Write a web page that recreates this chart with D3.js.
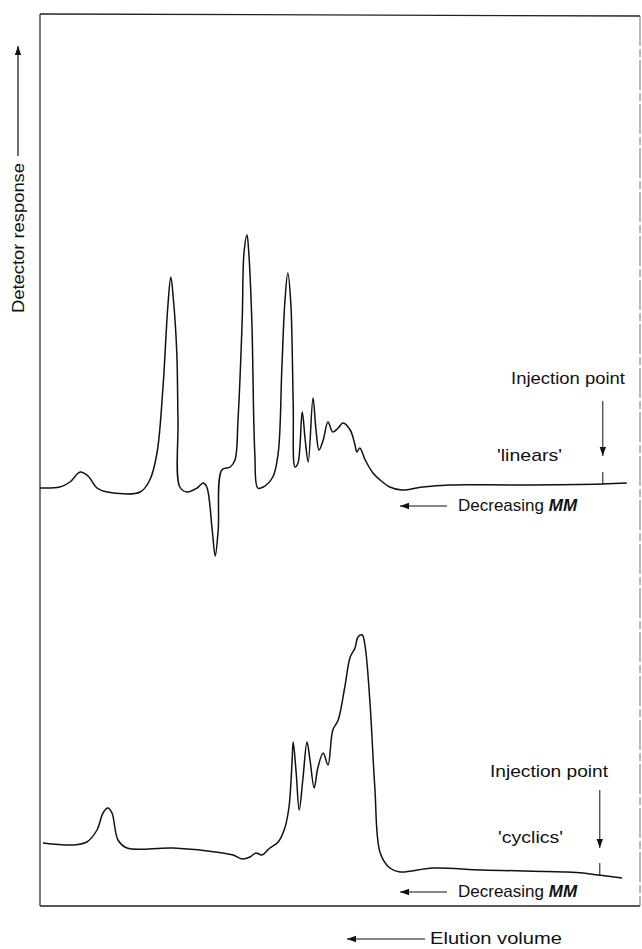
<!DOCTYPE html>
<html>
<head>
<meta charset="utf-8">
<script src="https://cdn.jsdelivr.net/npm/d3@7"></script>
<style>
  body { margin: 0; background: #fff; }
  text { font-family: "Liberation Sans", Arial, sans-serif; fill: #111; }
</style>
</head>
<body>
<svg id="chart" width="642" height="949"></svg>
<script>
/* Elution volume (arbitrary units, grows to the left) for the 'linears' trace */
var linearVol = [100, 96.7, 95, 93.3, 92, 90.5, 88.8, 83.3, 81.7, 80.5, 79.5, 78.7, 78.2, 77.8, 77.2, 77, 76.7,
    75.5, 73.8, 72.8, 72.2, 71.3, 70.8, 70.3, 69.7, 68.3, 67.5, 67, 66.3, 66, 65.5, 65.2, 64.7, 64.2, 63.7,
    62.8, 61.2, 60.3, 59.7, 59.2, 58.7, 58.2, 57.8, 57.5, 57, 56.3, 55.8, 55.3, 54.5, 54, 53.5, 52.8, 52,
    51.2, 50.3, 49.5, 48.3, 47.5, 47.2, 46.7, 45.8, 44.5, 43.3, 41.7, 39.7, 36.2, 31.7, 20.5, 6.3, 2.2];
/* Detector response for the 'linears' trace */
var linearResp = [0, 0.4, 2.4, 6.4, 4.8, 0, -1.6, -1.6, 3.2, 14, 40.4, 72.4, 84.4, 76.4, 54, 27.2, 0.4,
    -1.6, 0, 2, 0.4, -16.8, -27.2, -16.8, 7.2, 8.4, 11.2, 27.2, 67.2, 94, 101.2, 94, 67.2, 14, 0,
    0.4, 4.4, 14, 47.2, 74, 86, 74, 34, 8.4, 10, 30.4, 19.2, 10.4, 36, 23.2, 15.2, 19.2, 26.4,
    22.4, 24, 26, 23.2, 17.2, 14.4, 16, 11.2, 6, 3.2, 0.4, -0.8, 0.4, 1.2, 1.2, 1.6, 2];

/* Elution volume for the 'cyclics' trace */
var cyclicVol = [99.5, 94.5, 92.2, 90.5, 89.5, 88.7, 88, 87, 85.5, 77.8, 69.5, 67.8, 66.3, 65, 64, 63,
    61.7, 60.3, 59.2, 58.5, 58, 57.8, 57.3, 56.8, 56.2, 55.5, 55, 54.3, 53.7, 52.8, 52, 51.2, 50.3,
    49.2, 48.3, 47.5, 47, 46.3, 45.8, 45, 44.2, 43.3, 41.7, 40, 34.5, 26.2, 12.2, 9.5, 7, 3];
/* Detector response for the 'cyclics' trace */
var cyclicResp = [0.8, 0, 1.2, 6, 12.8, 14.8, 12.8, 2, -1.2, -1.2, -3.2, -4, -5.6, -4.8, -3.2, -4,
    -1.2, 1.2, 6.8, 15.2, 32.8, 41.2, 28.8, 14, 26, 41.2, 34, 22.8, 30.8, 36.8, 32, 46, 50,
    63.2, 75.2, 78.8, 83.2, 84, 79.2, 56.8, 23.2, -3.2, -9.2, -10.8, -9.2, -10, -10.8, -11.2, -12, -13.2];

/* Trace names and where the sample was injected */
var traceNames = ["'linears'", "'cyclics'"];
var injectionVol = [6.2, 6.7];

var margin = {top: 15, right: 2, bottom: 43, left: 40};
var width = 642 - margin.left - margin.right;
var height = 949 - margin.top - margin.bottom;

var svg = d3.select("#chart");

// elution volume increases to the left
var x = d3.scaleLinear().domain([0, 100]).range([640, 40]);
var yLin = d3.scaleLinear().domain([0, 100]).range([488, 238]);
var yCyc = d3.scaleLinear().domain([0, 100]).range([845, 595]);

var defs = svg.append("defs");
defs.append("marker")
    .attr("id", "head")
    .attr("viewBox", "0 0 10 10")
    .attr("refX", 10).attr("refY", 5)
    .attr("markerWidth", 9).attr("markerHeight", 9)
    .attr("markerUnits", "userSpaceOnUse")
    .attr("orient", "auto")
  .append("path")
    .attr("d", "M0,1.5 L10,5 L0,8.5 Z")
    .attr("fill", "#111");

// frame
var frame = svg.append("g").attr("fill", "none");
frame.append("line").attr("x1", 40).attr("y1", 14).attr("x2", 40).attr("y2", 906)
    .attr("stroke", "#333").attr("stroke-width", 1.3);
frame.append("line").attr("x1", 40).attr("y1", 14).attr("x2", 640).attr("y2", 16)
    .attr("stroke", "#222").attr("stroke-width", 1.3);
frame.append("line").attr("x1", 40).attr("y1", 906).attr("x2", 640).attr("y2", 906)
    .attr("stroke", "#222").attr("stroke-width", 1.3);
frame.append("line").attr("x1", 640).attr("y1", 16).attr("x2", 640).attr("y2", 906)
    .attr("stroke", "#777").attr("stroke-width", 1).attr("stroke-dasharray", "30,3,8,3");

function trace(vols, resps, yScale) {
    var pts = vols.map(function(v, i) { return [v, resps[i]]; });
    var line = d3.line()
        .x(function(d) { return x(d[0]); })
        .y(function(d) { return yScale(d[1]); })
        .curve(d3.curveCatmullRom.alpha(0.5));
    svg.append("path")
        .datum(pts)
        .attr("d", line)
        .attr("fill", "none")
        .attr("stroke", "#111")
        .attr("stroke-width", 1.5)
        .attr("stroke-linejoin", "round");
}

trace(linearVol, linearResp, yLin);
trace(cyclicVol, cyclicResp, yCyc);

// injection point arrows and small ticks on the baseline
var inj = [
    {v: injectionVol[0], top: 401, tip: 456, tick: [472, yLin(1.6)], label: 384, lx: 511, lw: 114,
     name: traceNames[0], nx: 497, ny: 461, dy: 511},
    {v: injectionVol[1], top: 790, tip: 848, tick: [863, yCyc(-12)], label: 777, lx: 490, lw: 118,
     name: traceNames[1], nx: 498, ny: 843, dy: 897}
];

inj.forEach(function(d) {
    var xi = x(d.v);
    svg.append("line")
        .attr("x1", xi).attr("y1", d.top).attr("x2", xi).attr("y2", d.tip)
        .attr("stroke", "#111").attr("stroke-width", 1)
        .attr("marker-end", "url(#head)");
    svg.append("line")
        .attr("x1", xi).attr("y1", d.tick[0]).attr("x2", xi).attr("y2", d.tick[1])
        .attr("stroke", "#111").attr("stroke-width", 1);
    svg.append("text")
        .attr("x", d.lx).attr("y", d.label)
        .attr("textLength", d.lw).attr("lengthAdjust", "spacingAndGlyphs")
        .style("font-size", "17px")
        .text("Injection point");
    svg.append("text")
        .attr("x", d.nx).attr("y", d.ny)
        .attr("textLength", 65).attr("lengthAdjust", "spacingAndGlyphs")
        .style("font-size", "17px")
        .text(d.name);

    // decreasing molar mass arrow
    svg.append("line")
        .attr("x1", 447).attr("y1", d.dy - 5).attr("x2", 400).attr("y2", d.dy - 5)
        .attr("stroke", "#111").attr("stroke-width", 1.2)
        .attr("marker-end", "url(#head)");
    var t = svg.append("text")
        .attr("x", 458).attr("y", d.dy)
        .style("font-size", "17px");
    t.append("tspan").text("Decreasing ");
    t.append("tspan").style("font-style", "italic").style("font-weight", "bold").text("MM");
});

// x axis title
svg.append("line")
    .attr("x1", 425).attr("y1", 939).attr("x2", 347).attr("y2", 939)
    .attr("stroke", "#111").attr("stroke-width", 1.2)
    .attr("marker-end", "url(#head)");
svg.append("text")
    .attr("x", 430).attr("y", 944)
    .attr("textLength", 132).attr("lengthAdjust", "spacingAndGlyphs")
    .style("font-size", "17px")
    .text("Elution volume");

// y axis title
svg.append("text")
    .attr("transform", "translate(24,313) rotate(-90)")
    .attr("textLength", 150).attr("lengthAdjust", "spacingAndGlyphs")
    .style("font-size", "17px")
    .text("Detector response");
svg.append("line")
    .attr("x1", 18).attr("y1", 156).attr("x2", 18).attr("y2", 46)
    .attr("stroke", "#111").attr("stroke-width", 1.2)
    .attr("marker-end", "url(#head)");
</script>
</body>
</html>
